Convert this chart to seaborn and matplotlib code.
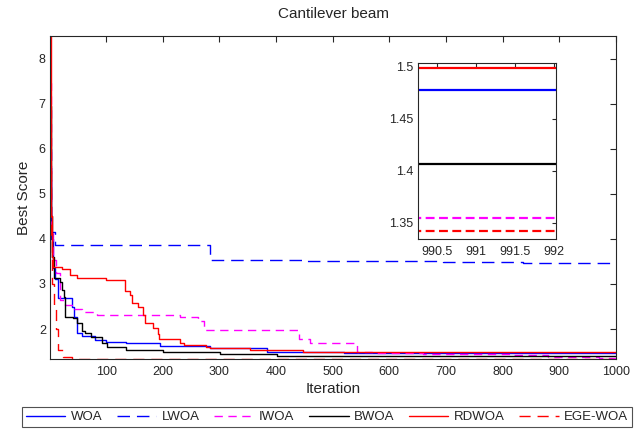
import numpy as np
import pandas as pd
import matplotlib
matplotlib.use("Agg")
import matplotlib.pyplot as plt
import seaborn as sns

sns.set_theme(style="white")
plt.rcParams['font.family'] = ['Liberation Sans', 'DejaVu Sans']

# ---- data (step curves: iteration breakpoints and best scores) ----
algorithms = ["WOA", "LWOA", "IWOA", "BWOA", "RDWOA", "EGE-WOA"]

woa_it = [1, 3, 6, 10, 16, 40, 43, 48, 57, 80, 100, 136, 195, 283, 384, 520, 1000]
woa_val = [5.3, 4.0, 3.35, 3.1, 2.7, 2.5, 2.27, 1.92, 1.84, 1.76, 1.72, 1.68, 1.62, 1.57, 1.50, 1.478, 1.478]

lwoa_it = [1, 3, 10, 284, 450, 695, 836, 1000]
lwoa_val = [6.0, 4.15, 3.87, 3.53, 3.51, 3.48, 3.46, 3.46]

iwoa_it = [1, 3, 6, 12, 18, 27, 44, 58, 84, 230, 262, 272, 440, 460, 542, 570, 660, 815, 880, 915, 970, 1000]
iwoa_val = [7.45, 4.2, 3.53, 3.24, 2.64, 2.53, 2.45, 2.38, 2.31, 2.27, 2.18, 1.99, 1.79, 1.68, 1.50, 1.48, 1.44, 1.42, 1.39, 1.37, 1.3545, 1.3545]

bwoa_it = [1, 3, 5, 8, 18, 22, 26, 28, 42, 48, 57, 62, 74, 92, 101, 136, 201, 301, 401, 600, 1000]
bwoa_val = [6.95, 4.5, 3.6, 3.13, 3.05, 2.87, 2.72, 2.27, 2.24, 2.13, 1.96, 1.92, 1.83, 1.68, 1.61, 1.53, 1.50, 1.44, 1.41, 1.4064, 1.4064]

rdwoa_it = [1, 3, 5, 7, 22, 37, 49, 100, 134, 142, 145, 157, 165, 169, 183, 191, 194, 230, 238, 277, 283, 354, 448, 1000]
rdwoa_val = [8.5, 4.5, 3.6, 3.38, 3.34, 3.2, 3.13, 3.09, 2.85, 2.76, 2.57, 2.50, 2.31, 2.13, 2.02, 1.90, 1.79, 1.70, 1.64, 1.61, 1.57, 1.53, 1.4985, 1.4985]

ege_it = [1, 3, 5, 8, 12, 16, 24, 40, 1000]
ege_val = [5.5, 4.0, 3.0, 2.5, 2.0, 1.53, 1.37, 1.3423, 1.3423]

x_ticks = [100, 200, 300, 400, 500, 600, 700, 800, 900, 1000]
y_ticks = [2, 3, 4, 5, 6, 7, 8]
inset_x_ticks = [990.5, 991, 991.5, 992]
inset_y_ticks = [1.35, 1.4, 1.45, 1.5]

series = {
    "WOA": (woa_it, woa_val),
    "LWOA": (lwoa_it, lwoa_val),
    "IWOA": (iwoa_it, iwoa_val),
    "BWOA": (bwoa_it, bwoa_val),
    "RDWOA": (rdwoa_it, rdwoa_val),
    "EGE-WOA": (ege_it, ege_val),
}

frames = []
for name in algorithms:
    it, val = series[name]
    frames.append(pd.DataFrame({"Iteration": it, "Best Score": val, "Algorithm": name}))
df = pd.concat(frames, ignore_index=True)

palette = {"WOA": "#0000FF", "LWOA": "#0000FF", "IWOA": "#FF00FF",
           "BWOA": "#000000", "RDWOA": "#FF0000", "EGE-WOA": "#FF0000"}
dashes = {"WOA": "", "LWOA": (9, 5), "IWOA": (6, 4), "BWOA": "",
          "RDWOA": "", "EGE-WOA": (8, 5)}

fig = plt.figure(figsize=(6.42, 4.29), dpi=100)
ax = fig.add_axes([50/642, 1-359/429, (616-50)/642, (359-36)/429])

sns.lineplot(data=df, x="Iteration", y="Best Score", hue="Algorithm", style="Algorithm",
             hue_order=algorithms, style_order=algorithms, palette=palette, dashes=dashes,
             estimator=None, sort=False, drawstyle="steps-post", linewidth=1.0,
             ax=ax, legend=True)

ax.set_xlim(1, 1000)
ax.set_ylim(1.336, 8.5)
ax.set_xticks(x_ticks)
ax.set_yticks(y_ticks)
ax.tick_params(direction="in", length=4, width=0.8, top=True, right=True,
               labelsize=9, colors="#262626", pad=3)
ax.tick_params(axis="x", pad=5)
for s in ax.spines.values():
    s.set_color("#262626")
    s.set_linewidth(0.8)
ax.set_title("Cantilever beam", fontsize=11, color="#262626", pad=13)
ax.set_xlabel("Iteration", fontsize=11, color="#262626", labelpad=3)
ax.set_ylabel("Best Score", fontsize=11, color="#262626", labelpad=6)

handles, labels = ax.get_legend_handles_labels()
ax.get_legend().remove()
leg = fig.legend(handles, labels, loc="upper center", bbox_to_anchor=(327/642, 1-407/429),
                 ncol=6, frameon=True, fancybox=False, edgecolor="#262626",
                 fontsize=9.5, handlelength=3.0, columnspacing=1.1, handletextpad=0.4,
                 borderpad=0.3, borderaxespad=0)
leg.get_frame().set_linewidth(0.8)

# ---- inset ----
axin = fig.add_axes([417.7/642, 1-239.3/429, (555.7-417.7)/642, (239.3-62.7)/429])
df_in = df[df["Algorithm"] != "LWOA"]
order_in = [a for a in algorithms if a != "LWOA"]
sns.lineplot(data=df_in, x="Iteration", y="Best Score", hue="Algorithm", style="Algorithm",
             hue_order=order_in, style_order=order_in, palette=palette,
             dashes={k: ((4, 2) if v else "") for k, v in dashes.items() if k != "LWOA"},
             estimator=None, sort=False, drawstyle="steps-post", linewidth=1.6,
             ax=axin, legend=False)
axin.set_xlim(990.25, 992.02)
axin.set_ylim(1.334, 1.5038)
axin.set_xticks(inset_x_ticks)
axin.set_xticklabels(["990.5", "991", "991.5", "992"])
axin.set_yticks(inset_y_ticks)
axin.set_yticklabels(["1.35", "1.4", "1.45", "1.5"])
axin.tick_params(direction="in", length=3, width=0.8, top=True, right=True,
                 labelsize=9, colors="#262626", pad=3)
axin.tick_params(axis="x", pad=5)
axin.set_xlabel("")
axin.set_ylabel("")
for s in axin.spines.values():
    s.set_color("#262626")
    s.set_linewidth(0.8)
axin.set_facecolor("white")

fig.savefig("out.png", dpi=100, facecolor="white")
